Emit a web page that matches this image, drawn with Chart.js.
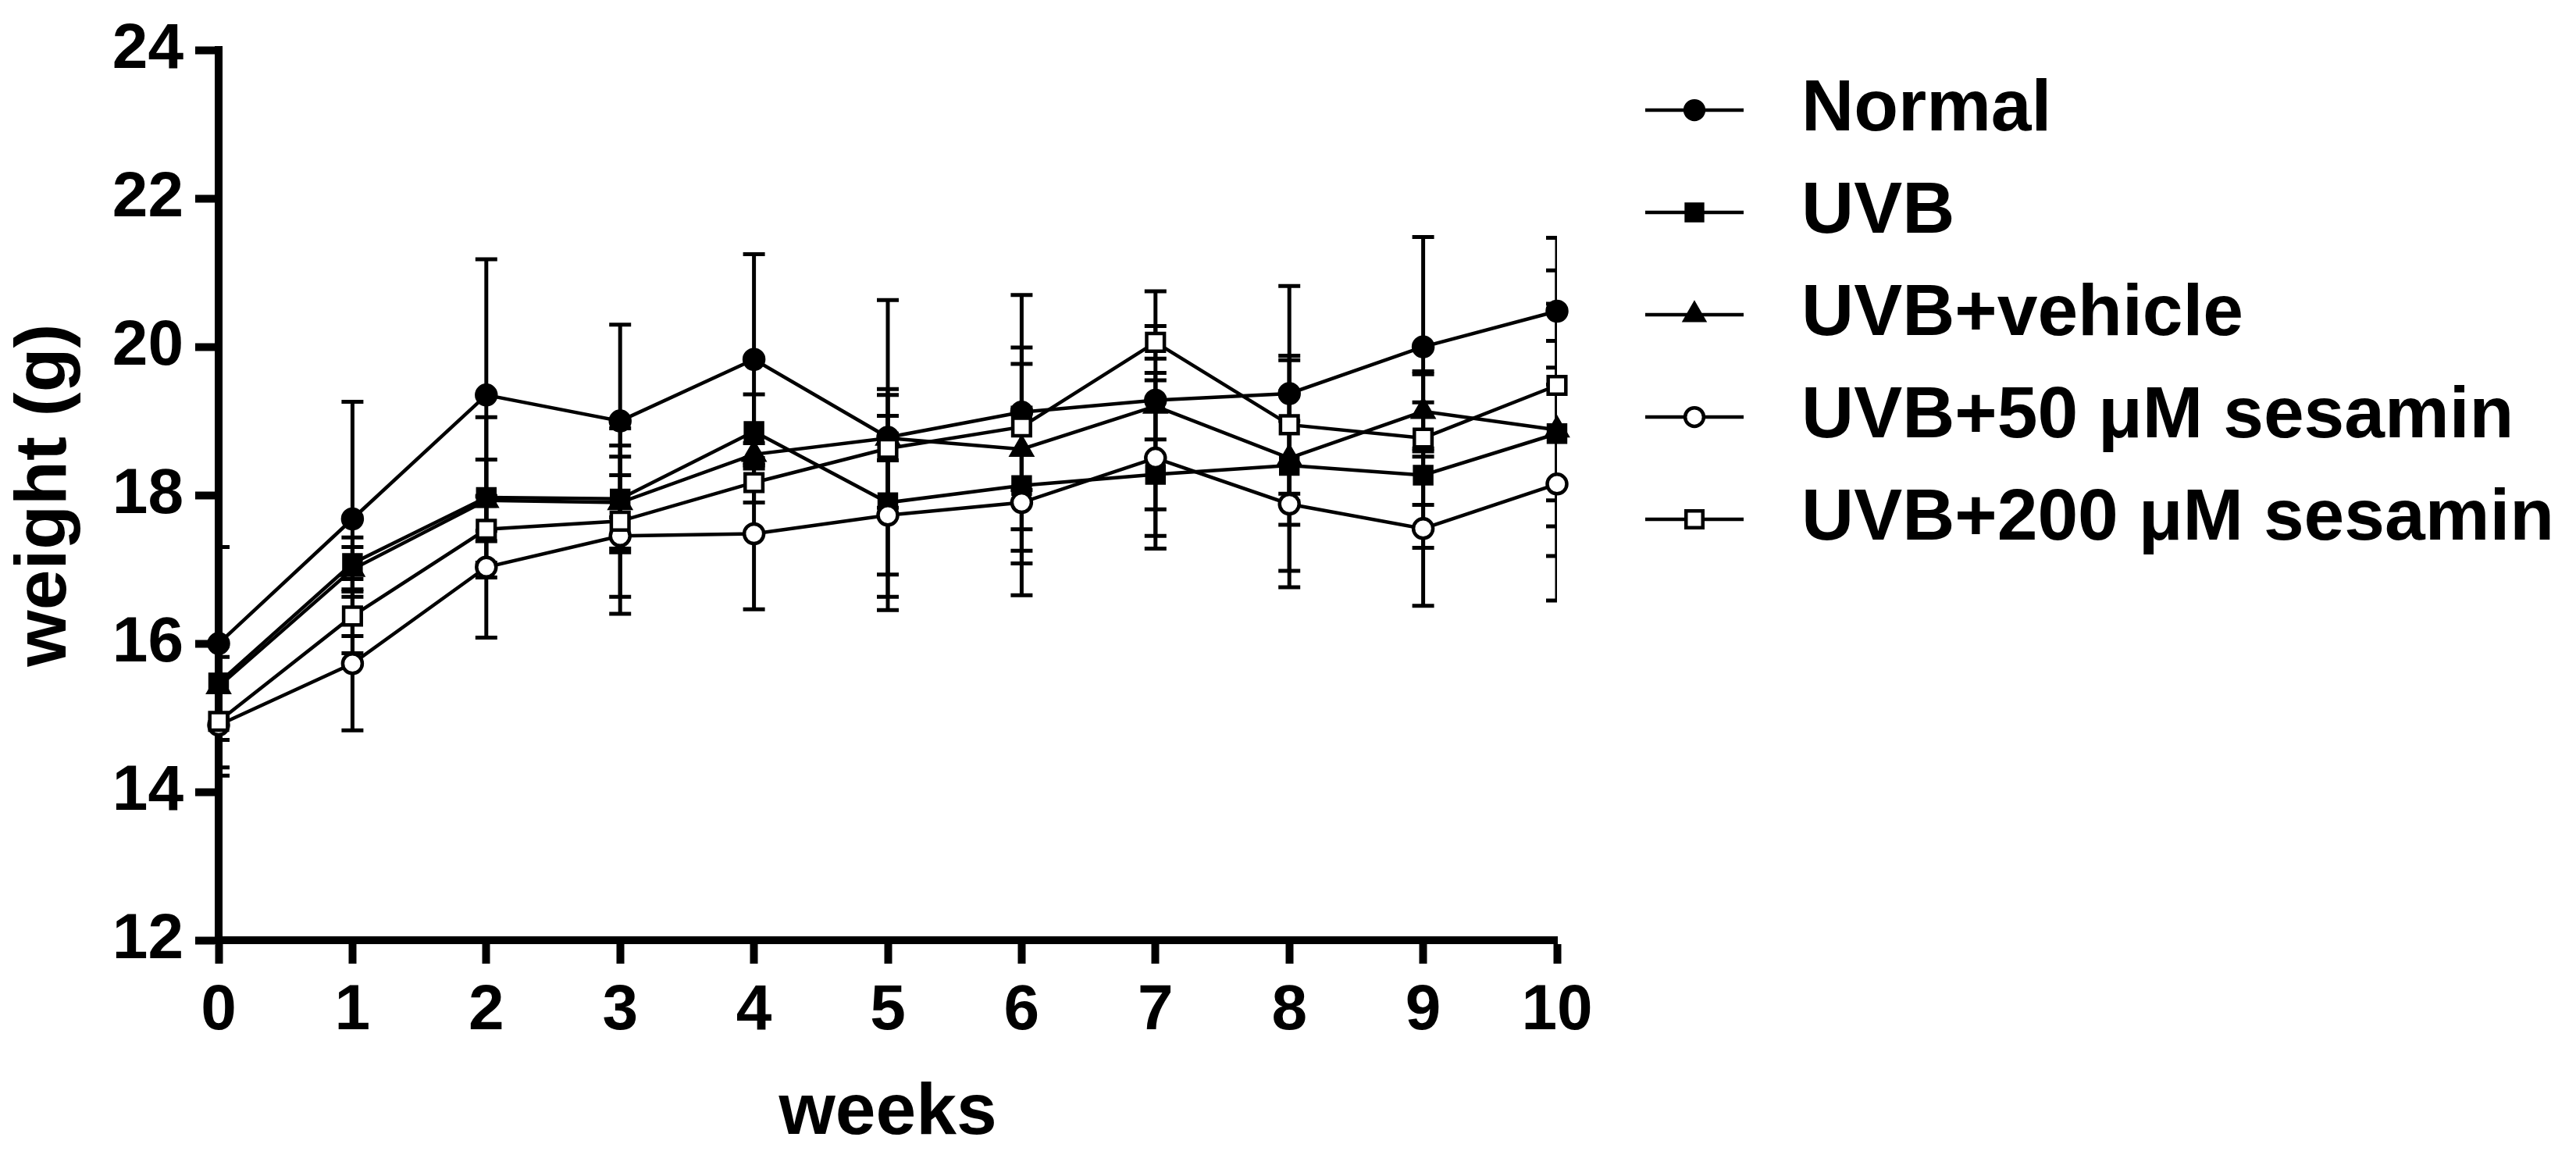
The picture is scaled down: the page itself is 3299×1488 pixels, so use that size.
<!DOCTYPE html>
<html>
<head>
<meta charset="utf-8">
<script src="https://cdn.jsdelivr.net/npm/chart.js@4.4.0/dist/chart.umd.min.js"></script>
<style>
html,body{margin:0;padding:0;background:#ffffff;}
canvas{display:block;}
</style>
</head>
<body>
<canvas id="c" width="3299" height="1488" style="width:3299px;height:1488px"></canvas>
<script>
// ---- data ----
const weeks = [0, 1, 2, 3, 4, 5, 6, 7, 8, 9, 10];
const seriesNames = ["Normal", "UVB", "UVB+vehicle", "UVB+50 μM sesamin", "UVB+200 μM sesamin"];
const normalMean  = [16.0, 17.68, 19.35, 19.0, 19.83, 18.78, 19.12, 19.28, 19.37, 20.0, 20.48];
const normalSD    = [1.3, 1.58, 1.83, 1.3, 1.42, 1.85, 1.58, 1.47, 1.45, 1.48, 0.99];
const uvbMean     = [15.47, 17.08, 17.97, 17.95, 18.86, 17.9, 18.13, 18.28, 18.4, 18.27, 18.83];
const uvbSD       = [0.5, 0.35, 1.08, 0.72, 0.5, 1.45, 1.05, 1.0, 1.42, 0.98, 1.25];
const vehicleMean = [15.42, 17.0, 17.93, 17.9, 18.55, 18.77, 18.62, 19.2, 18.5, 19.13, 18.88];
const vehicleSD   = [0.4, 0.3, 0.55, 0.62, 0.15, 0.3, 1.37, 0.45, 0.9, 0.5, 1.7];
const s50Mean     = [14.9, 15.73, 17.03, 17.45, 17.48, 17.73, 17.9, 18.5, 17.88, 17.55, 18.15];
const s50SD       = [0.68, 0.9, 0.95, 0.82, 1.02, 1.1, 1.25, 1.05, 1.12, 1.04, 1.57];
const s200Mean    = [14.95, 16.37, 17.54, 17.65, 18.17, 18.63, 18.92, 20.06, 18.95, 18.77, 19.48];
const s200SD      = [0.62, 0.5, 0.45, 1.25, 0.27, 0.8, 0.85, 0.22, 0.93, 0.9, 1.55];
const yTickValues = [12, 14, 16, 18, 20, 22, 24];
const xTitle = "weeks";
const yTitle = "weight (g)";

// ---- styling ----
const FONT = '"Liberation Sans", Arial, Helvetica, sans-serif';
const means = [normalMean, uvbMean, vehicleMean, s50Mean, s200Mean];
const sds = [normalSD, uvbSD, vehicleSD, s50SD, s200SD];
const styles = [
  {pointStyle: 'circle',   radius: 12.5, fill: '#000000', order: 5},
  {pointStyle: 'rect',     radius: 15.5, fill: '#000000', order: 4},
  {pointStyle: 'triangle', radius: 15, fill: '#000000', order: 3},
  {pointStyle: 'circle',   radius: 12.5, fill: '#ffffff', order: 2},
  {pointStyle: 'rect',     radius: 16, fill: '#ffffff', order: 1}
];

const datasets = seriesNames.map((name, k) => ({
  label: name,
  data: weeks.map((w, i) => ({x: w, y: means[k][i]})),
  sd: sds[k],
  borderColor: '#000000',
  borderWidth: 4.5,
  backgroundColor: styles[k].fill,
  pointStyle: styles[k].pointStyle,
  pointRadius: styles[k].radius,
  pointHoverRadius: styles[k].radius,
  pointBackgroundColor: styles[k].fill,
  pointBorderColor: '#000000',
  pointBorderWidth: 4.5,
  tension: 0,
  fill: false,
  clip: false,
  order: styles[k].order
}));

// error bars drawn under the markers, clipped to the plot area
const errorBars = {
  id: 'errorBars',
  beforeDatasetsDraw(chart) {
    const {ctx, chartArea, scales} = chart;
    const xs = scales.x, ys = scales.y;
    ctx.save();
    ctx.beginPath();
    ctx.rect(chartArea.left, chartArea.top - 20, chartArea.right - chartArea.left, chartArea.bottom - chartArea.top + 20);
    ctx.clip();
    ctx.strokeStyle = '#000000';
    ctx.lineWidth = 5;
    ctx.lineCap = 'butt';
    const half = 14;
    chart.data.datasets.forEach(ds => {
      ds.data.forEach((p, i) => {
        const px = xs.getPixelForValue(p.x);
        const yt = ys.getPixelForValue(p.y + ds.sd[i]);
        const yb = ys.getPixelForValue(p.y - ds.sd[i]);
        ctx.beginPath();
        ctx.moveTo(px, yt); ctx.lineTo(px, yb);
        ctx.moveTo(px - half, yt); ctx.lineTo(px + half, yt);
        ctx.moveTo(px - half, yb); ctx.lineTo(px + half, yb);
        ctx.stroke();
      });
    });
    ctx.restore();
  }
};

// legend: line + marker + label, to the right of the plot
const sideLegend = {
  id: 'sideLegend',
  afterDraw(chart) {
    const ctx = chart.ctx;
    const x0 = 2107, x1 = 2233, textX = 2307, top = 141, step = 131;
    ctx.save();
    chart.data.datasets.forEach((ds, k) => {
      const y = top + k * step;
      ctx.strokeStyle = '#000000';
      ctx.lineWidth = 4.5;
      ctx.beginPath(); ctx.moveTo(x0, y); ctx.lineTo(x1, y); ctx.stroke();
      ctx.fillStyle = ds.pointBackgroundColor;
      ctx.strokeStyle = '#000000';
      ctx.lineWidth = 4.5;
      Chart.helpers.drawPoint(ctx, {pointStyle: ds.pointStyle, radius: ds.pointRadius * 0.95, rotation: 0, borderWidth: 4.5}, (x0 + x1) / 2, y);
      ctx.fillStyle = '#000000';
      ctx.font = 'bold 93px ' + FONT;
      ctx.textAlign = 'left';
      ctx.textBaseline = 'middle';
      ctx.fillText(ds.label, textX, y);
    });
    ctx.restore();
  }
};

new Chart(document.getElementById('c'), {
  type: 'line',
  data: {datasets},
  plugins: [errorBars, sideLegend],
  options: {
    responsive: false,
    animation: false,
    devicePixelRatio: 1,
    layout: {padding: {top: 64, right: 1305, bottom: 0, left: 0}},
    plugins: {legend: {display: false}, tooltip: {enabled: false}},
    scales: {
      x: {
        type: 'linear',
        min: 0, max: 10,
        afterBuildTicks: s => { s.ticks = weeks.map(v => ({value: v})); },
        ticks: {color: '#000000', font: {family: FONT, size: 82, weight: 'bold'}, padding: 12, maxRotation: 0, autoSkip: false},
        grid: {drawOnChartArea: false, drawTicks: true, tickLength: 30, tickWidth: 10, tickColor: '#000000'},
        border: {display: true, color: '#000000', width: 10},
        title: {display: true, text: xTitle, color: '#000000', font: {family: FONT, size: 93, weight: 'bold'}, padding: {top: 0, bottom: 6}},
        afterFit: s => { s.height = 284; }
      },
      y: {
        type: 'linear',
        min: 12, max: 24,
        afterBuildTicks: s => { s.ticks = yTickValues.map(v => ({value: v})); },
        ticks: {color: '#000000', font: {family: FONT, size: 82, weight: 'bold'}, padding: 15},
        grid: {drawOnChartArea: false, drawTicks: true, tickLength: 30, tickWidth: 10, tickColor: '#000000'},
        border: {display: true, color: '#000000', width: 10},
        title: {display: true, text: yTitle, color: '#000000', font: {family: FONT, size: 93, weight: 'bold'}, padding: {top: 3, bottom: 0}},
        afterFit: s => { s.width = 280; }
      }
    }
  }
});
</script>
</body>
</html>
